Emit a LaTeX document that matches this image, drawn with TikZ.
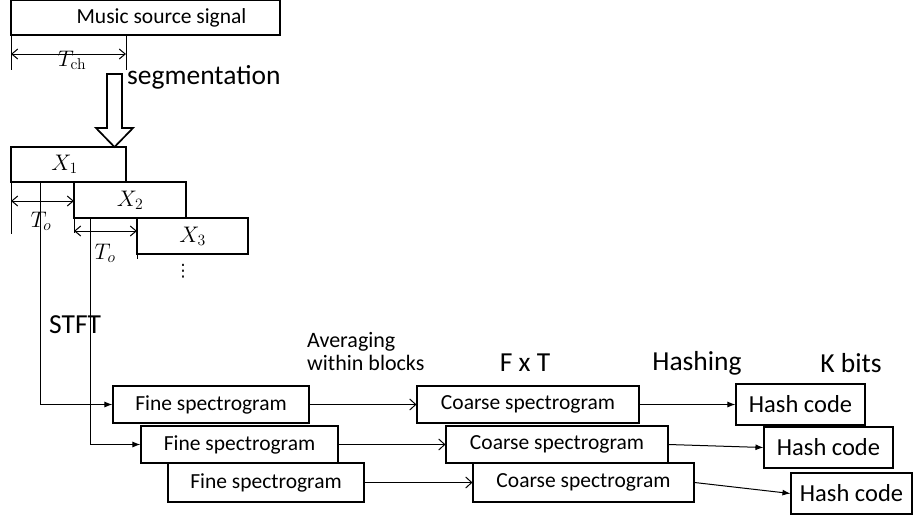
\RequirePackage{fix-cm}
\documentclass[tikz,border=0pt]{standalone}
\usepackage[no-math]{fontspec}
\setmainfont{Carlito}
\newfontfamily\symfont{DejaVu Sans}
\usetikzlibrary{arrows.meta}
\begin{document}
\begin{tikzpicture}[x=1pt,y=-1pt,
  box/.style={draw, line width=1.1pt, inner sep=0pt, font=\fontsize{21.5}{24}\selectfont},
  hbox/.style={box, font=\fontsize{24.5}{27}\selectfont, minimum width=129pt, minimum height=41pt},
  fbox/.style={box, minimum width=196pt, minimum height=37pt},
  cbox/.style={box, minimum width=222pt, minimum height=37pt},
  xbox/.style={box, minimum height=36pt, font=\fontsize{22.5}{24}\selectfont},
  biglab/.style={inner sep=0pt, font=\fontsize{27.5}{30}\selectfont},
  midlab/.style={inner sep=0pt, font=\fontsize{22}{23}\selectfont, align=left},
  mathlab/.style={inner sep=0pt, font=\fontsize{22.5}{24}\selectfont},
  conn/.style={line width=1pt},
  filled/.style={conn, -{Latex[length=8pt,width=6pt]}},
  open/.style={conn, -{Straight Barb[length=6pt,width=11pt]}},
  dim/.style={conn, {Straight Barb[length=6pt,width=10pt]}-{Straight Barb[length=6pt,width=10pt]}},
  ext/.style={line width=0.9pt}
]
\useasboundingbox (0,0) rectangle (913,520);

% source signal
\node[box, minimum width=269pt, minimum height=35pt] (music) at (145.5,17.5) {\hspace*{32pt}Music source signal};

% T_ch dimension
\coordinate (tchL) at (11,35);
\coordinate (tchR) at (126,35);
\draw[ext] (tchL) -- ++(0,35);
\draw[ext] (tchR) -- ++(0,35);
\coordinate (tchA) at (11,54);
\coordinate (tchB) at (126,54);
\draw[dim] (tchA) -- (tchB);
\node[mathlab] (tch) at (72,60) {$T_{\mathrm{ch}}$};

% segmentation arrow
\draw[line width=1.7pt, fill=white] (107,74) -- (122,74) -- (122,128) -- (133,128) -- (114.5,147) -- (96,128) -- (107,128) -- cycle;
\node[biglab, anchor=west] (seg) at (127,77) {segmentation};

% frames
\node[xbox, minimum width=115pt, minimum height=35pt] (X1) at (68.5,164.5) {\hspace*{-8pt}$X_1$};
\node[xbox, minimum width=112pt] (X2) at (130,200) {$X_2$};
\node[xbox, minimum width=111pt] (X3) at (192.5,236) {$X_3$};
\node[inner sep=0pt, font=\symfont\fontsize{17}{18}\selectfont] (dots) at (183,271) {⋮};

% T_o dimensions
\coordinate (o1L) at (11,182);
\draw[ext] (o1L) -- ++(0,52);
\coordinate (o1A) at (11,201);
\coordinate (o1B) at (74,201);
\draw[dim] (o1A) -- (o1B);
\node[mathlab] (to1) at (41,221) {$T_o$};

\coordinate (o2L) at (74,218);
\draw[ext] (o2L) -- ++(0,15);
\coordinate (o2R) at (137,254);
\draw[ext] (o2R) -- ++(0,5);
\coordinate (o2A) at (74,231);
\coordinate (o2B) at (137,231);
\draw[dim] (o2A) -- (o2B);
\node[mathlab] (to2) at (105,253) {$T_o$};

% STFT
\node[biglab, anchor=west] (stft) at (49,325) {STFT};

% rows
\node[fbox] (fine1) at (211,404.5) {Fine spectrogram};
\node[fbox, minimum width=197pt] (fine2) at (239.5,444.5) {Fine spectrogram};
\node[fbox, minimum height=39pt] (fine3) at (266,482.5) {Fine spectrogram};

\node[cbox] (coarse1) at (528,404.5) {Coarse spectrogram};
\node[cbox] (coarse2) at (557,444.5) {Coarse spectrogram};
\node[cbox, minimum width=221pt, minimum height=39pt] (coarse3) at (583.5,482.5) {Coarse spectrogram};

\node[hbox] (hash1) at (800.5,404.5) {Hash code};
\node[hbox] (hash2) at (828.5,447.5) {Hash code};
\node[hbox, minimum width=121pt] (hash3) at (851.5,493.5) {Hash code};

% STFT lines
\coordinate (s1) at (40,182);
\coordinate (s2) at (90,218);
\draw[filled] (s1) |- (fine1.west);
\draw[filled] (s2) |- (fine2.west);

% averaging arrows
\draw[open] (fine1.east) -- (coarse1.west);
\draw[open] (fine2.east) -- (coarse2.west);
\draw[open] (fine3.east) -- (coarse3.west);

% hashing arrows
\draw[filled] (coarse1.east) -- (hash1.west);
\draw[filled] (coarse2.east) -- (hash2.west);
\draw[filled] (coarse3.east) -- (hash3.west);

% column labels
\node[midlab, anchor=west] (avg) at (307,352) {Averaging\\within blocks};
\node[biglab] (fxt) at (525,363) {F x T};
\node[biglab] (hashing) at (697,363) {Hashing};
\node[biglab] (kbits) at (851,363) {K bits};
\end{tikzpicture}
\end{document}
